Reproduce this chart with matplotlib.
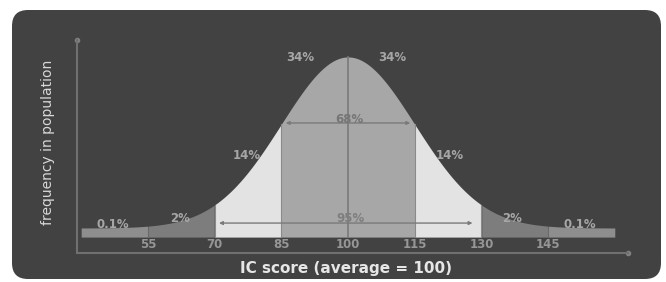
import numpy as np
import matplotlib
matplotlib.use("Agg")
import matplotlib.pyplot as plt
from matplotlib.patches import FancyBboxPatch

# ---- data ----
mean_iq = 100
sd_iq = 15
tick_values = [55, 70, 85, 100, 115, 130, 145]
tick_labels = ["55", "70", "85", "100", "115", "130", "145"]
seg_edges = [40, 55, 70, 85, 115, 130, 145, 160]
seg_colors = ["#8e8e8e", "#7d7d7d", "#e3e3e3", "#a7a7a7", "#e3e3e3", "#7d7d7d", "#8e8e8e"]
pct_labels = ["0.1%", "2%", "14%", "34%", "34%", "14%", "2%", "0.1%"]
pct_x = [47.2, 62.2, 77.3, 89.2, 109.9, 122.9, 136.9, 152.2]
pct_y = [0.023, 0.053, 0.421, 0.994, 0.994, 0.421, 0.053, 0.023]
arrow68 = (86.0, 114.0)
arrow95 = (71.0, 128.0)

W, H = 666, 282
fig = plt.figure(figsize=(W / 100, H / 100), dpi=100)
fig.patch.set_facecolor("white")

# background panel
bgax = fig.add_axes([0, 0, 1, 1], zorder=-5)
bgax.set_xlim(0, W)
bgax.set_ylim(H, 0)
bgax.axis("off")
bgax.add_patch(FancyBboxPatch((12, 10), 649, 269,
                              boxstyle="round,pad=0,rounding_size=16",
                              facecolor="#424242", edgecolor="none"))

ax = fig.add_axes([77 / W, 1 - 253 / H, (628 - 77) / W, 213 / H], zorder=1)
ax.set_facecolor("none")
ax.set_xlim(39.06, 162.97)
ax.set_ylim(-0.146, 1.099)

bar_bottom = -0.053
x = np.linspace(seg_edges[0], seg_edges[-1], 1200)
curve = np.exp(-0.5 * ((x - mean_iq) / sd_iq) ** 2)

for i in range(len(seg_colors)):
    lo, hi = seg_edges[i], seg_edges[i + 1]
    m = (x >= lo) & (x <= hi)
    ax.fill_between(x[m], bar_bottom, np.maximum(curve[m], 0.0), color=seg_colors[i], lw=0, zorder=2)

# segment divider lines
for v in [70, 85, 115, 130]:
    h = np.exp(-0.5 * ((v - mean_iq) / sd_iq) ** 2)
    ax.plot([v, v], [bar_bottom, h], color="#8a8a8a", lw=0.8, zorder=3)
for v in [55, 145]:
    ax.plot([v, v], [bar_bottom, 0.0], color="#6a6a6a", lw=0.8, zorder=3)
ax.plot([mean_iq, mean_iq], [bar_bottom, 1.0], color="#7a7a7a", lw=1.2, zorder=3)

# arrows
for (a, b), yv in [(arrow68, 0.614), (arrow95, 0.029)]:
    ax.annotate("", xy=(a, yv), xytext=(b, yv),
                arrowprops=dict(arrowstyle="<|-|>", color="#7a7a7a", lw=1.0,
                                mutation_scale=5, shrinkA=0, shrinkB=0), zorder=4)
ax.text(100.4, 0.637, "68%", ha="center", va="center", fontsize=8.5, fontweight="bold",
        color="#767676", zorder=5)
ax.text(100.6, 0.058, "95%", ha="center", va="center", fontsize=8.5, fontweight="bold",
        color="#7e7e7e", zorder=5)

for s, xv, yv in zip(pct_labels, pct_x, pct_y):
    ax.text(xv, yv, s, ha="center", va="center", fontsize=8.5, fontweight="bold",
            color="#a6a6a6", zorder=5)

for v, s in zip(tick_values, tick_labels):
    ax.text(v, -0.094, s, ha="center", va="center", fontsize=8.5, fontweight="bold",
            color="#969696", zorder=5)

# axes lines
for sp in ["top", "right"]:
    ax.spines[sp].set_visible(False)
for sp in ["left", "bottom"]:
    ax.spines[sp].set_color("#707070")
    ax.spines[sp].set_linewidth(1.5)
ax.set_xticks([])
ax.set_yticks([])
ax.plot([1], [0], marker="o", ms=3, color="#808080", transform=ax.transAxes, clip_on=False)
ax.plot([0], [1], marker="o", ms=3, color="#808080", transform=ax.transAxes, clip_on=False)

fig.text(346 / W, 1 - 268 / H, "IC score (average = 100)", ha="center", va="center",
         fontsize=11, fontweight="bold", color="#e6e6e6")
fig.text(48 / W, 1 - 142 / H, "frequency in population", ha="center", va="center",
         rotation=90, fontsize=10, color="#d8d8d8")

fig.savefig("out.png", dpi=100, facecolor="white")
